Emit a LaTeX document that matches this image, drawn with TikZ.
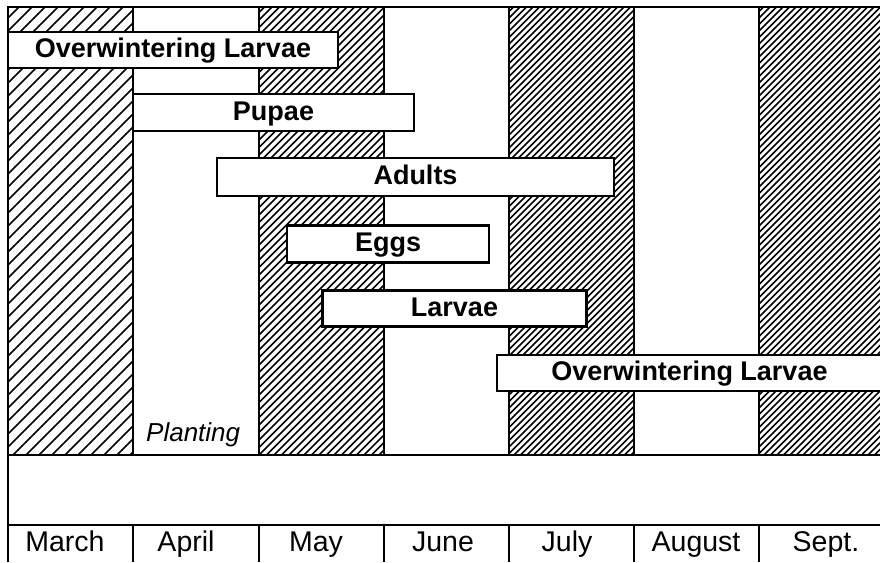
\documentclass[tikz,border=0pt]{standalone}
\usepackage{fontspec}
\setmainfont{Liberation Sans}
\usetikzlibrary{positioning}

\begin{document}
\begin{tikzpicture}[x=1pt, y=-1pt,
  frame/.style={line width=2.8pt},
  hatch/.style={line width=1.5pt},
  stage/.style={draw, line width=2.4pt, fill=white, inner sep=0pt, text height=19.5pt, text depth=4pt, font=\fontsize{27}{30}\selectfont\bfseries},
  month/.style={anchor=base, inner sep=0pt, font=\fontsize{28.5}{30}\selectfont}]
  \clip (0,0) rectangle (880,562);
  \fill[white] (0,0) rectangle (880,562);

  % hatched months
  \foreach \xa/\xb/\gap in {8/133/13, 259/384/7.5, 509/634/6.5, 759/884/6.5}{
    \begin{scope}
      \clip (\xa,7) rectangle (\xb,455);
      \foreach \k in {0,...,90}
        \draw[hatch] (\xa-450+\k*\gap,455) -- ++(450,-450);
    \end{scope}
  }

  % grid
  \draw[frame] (8,562) -- (8,7) -- (884,7);
  \draw[frame] (8,455) -- (884,455);
  \draw[frame] (8,525) -- (884,525);
  \foreach \x in {133,259,384,509,634,759}{
    \draw[frame] (\x,7) -- (\x,455);
    \draw[frame] (\x,525) -- (\x,562);
  }

  \node[stage, minimum width=330, minimum height=36] (owlarva) at (173,50) {Overwintering Larvae};
  \node[stage, minimum width=281, minimum height=37] (pupae) at (273.5,112.5) {Pupae};
  \node[stage, minimum width=397, minimum height=38] (adults) at (415.5,177) {Adults};
  \node[stage, minimum width=202, minimum height=37] (eggs) at (388,244) {Eggs};
  \node[stage, minimum width=264, minimum height=36] (larvae) at (454.5,308.5) {Larvae};
  \node[stage, minimum width=385, minimum height=36] (owlarvb) at (689.5,373) {Overwintering Larvae};

  \node[anchor=base west, inner sep=0pt, font=\fontsize{26}{28}\selectfont\itshape] (planting) at (146,441) {Planting};

  \node[month] (march) at (65,551) {March};
  \node[month] (april) at (186,551) {April};
  \node[month] (may) at (316,551) {May};
  \node[month] (june) at (443,551) {June};
  \node[month] (july) at (567,551) {July};
  \node[month] (august) at (696,551) {August};
  \node[month] (sept) at (826,551) {Sept.};
\end{tikzpicture}
\end{document}
